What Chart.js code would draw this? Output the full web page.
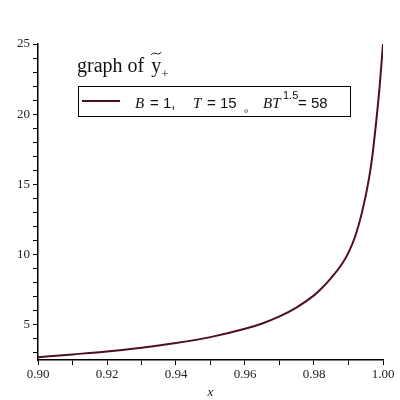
<!DOCTYPE html>
<html>
<head>
<meta charset="utf-8">
<script src="https://cdn.jsdelivr.net/npm/chart.js@4"></script>
<style>
  html, body { margin: 0; padding: 0; background: #fff; }
  #wrap { width: 400px; height: 400px; position: relative; }
</style>
</head>
<body>
<div id="wrap"><canvas id="yChart" width="400" height="400"></canvas></div>
<script>
// values
const xValues = [0.900, 0.910, 0.920, 0.930, 0.940, 0.950, 0.960, 0.965, 0.970, 0.975,
                 0.980, 0.982, 0.985, 0.988, 0.990, 0.992, 0.994, 0.996, 0.997, 0.998, 0.999, 1.000];
const yValues = [2.70, 2.90, 3.11, 3.38, 3.71, 4.13, 4.72, 5.10, 5.60, 6.25,
                 7.10, 7.55, 8.35, 9.30, 10.15, 11.35, 13.1, 15.5, 17.2, 19.4, 21.9, 25.0];
const xTicks = [0.90, 0.91, 0.92, 0.93, 0.94, 0.95, 0.96, 0.97, 0.98, 0.99, 1.00];
const xTickLabels = ['0.90', '', '0.92', '', '0.94', '', '0.96', '', '0.98', '', '1.00'];
const yTicks = [3, 4, 5, 6, 7, 8, 9, 10, 11, 12, 13, 14, 15, 16, 17, 18, 19, 20, 21, 22, 23, 24, 25];
const yLabelValues = [5, 10, 15, 20, 25];
const legendLabel = 'B = 1,  T = 15 \u3002 BT^1.5 = 58';

const lineColor = '#4e0f1e';
const serif = '"Liberation Serif", "Times New Roman", "DejaVu Serif", serif';
const sans = '"Liberation Sans", sans-serif';

let points = xValues.map((x, i) => ({ x: x, y: yValues[i] }));

// title and legend box drawn on the canvas
const legendBox = {
    id: 'legendBox',
    afterDraw(chart) {
        let ctx = chart.ctx;
        ctx.save();
        ctx.fillStyle = '#111';
        ctx.strokeStyle = '#111';
        ctx.textBaseline = 'alphabetic';
        ctx.font = '20px ' + serif;
        ctx.fillText('graph of', 77, 72);
        // y with tilde and + subscript
        let yx = 77 + ctx.measureText('graph of').width + 7;
        ctx.fillText('y', yx, 72);
        ctx.lineWidth = 1;
        ctx.beginPath();
        ctx.moveTo(yx, 55);
        ctx.bezierCurveTo(yx + 3, 50, yx + 7, 57, yx + 10, 52);
        ctx.stroke();
        ctx.font = '13px ' + serif;
        ctx.fillText('+', yx + 10, 78);

        // box
        ctx.strokeStyle = '#000';
        ctx.lineWidth = 1;
        ctx.strokeRect(78.5, 86.5, 272, 30);
        ctx.strokeStyle = lineColor;
        ctx.lineWidth = 2;
        ctx.beginPath();
        ctx.moveTo(82, 101);
        ctx.lineTo(120, 101);
        ctx.stroke();

        ctx.fillStyle = '#111';
        let y = 108;
        ctx.font = 'italic 15px ' + serif;
        ctx.fillText('B', 135, y);
        ctx.fillText('T', 193, y);
        ctx.fillText('BT', 263, y);
        ctx.font = '15px ' + sans;
        ctx.fillText('= 1,', 150, y);
        ctx.fillText('= 15', 207, y);
        ctx.fillText('\u3002', 243, y + 3);
        ctx.fillText('= 58', 298, y);
        ctx.font = '11px ' + sans;
        ctx.fillText('1.5', 283, y - 9);
        ctx.restore();
    }
};

let ctx = document.getElementById('yChart').getContext('2d');
let chart = new Chart(ctx, {
    type: 'line',
    data: {
        datasets: [{
            label: legendLabel,
            data: points,
            borderColor: lineColor,
            borderWidth: 2,
            pointRadius: 0,
            fill: false,
            cubicInterpolationMode: 'monotone'
        }]
    },
    options: {
        responsive: false,
        animation: false,
        layout: { padding: { top: 44, right: 17, left: 0, bottom: 0 } },
        plugins: {
            legend: { display: false },
            tooltip: { enabled: false }
        },
        scales: {
            x: {
                type: 'linear',
                min: 0.90,
                max: 1.00,
                afterBuildTicks: (scale) => { scale.ticks = xTicks.map(v => ({ value: v })); },
                afterFit: (scale) => { scale.height = 40; },
                grid: { drawOnChartArea: false, drawTicks: true, tickLength: 5, color: '#000' },
                border: { color: '#000', width: 1.5 },
                ticks: {
                    autoSkip: false,
                    maxRotation: 0,
                    padding: 2,
                    color: '#222',
                    font: { family: serif, size: 13 },
                    callback: (v, i) => xTickLabels[i]
                },
                title: {
                    display: true,
                    text: 'x',
                    color: '#222',
                    padding: 0,
                    font: { family: serif, size: 13, style: 'italic' }
                }
            },
            y: {
                min: 2.5,
                max: 25,
                afterBuildTicks: (scale) => { scale.ticks = yTicks.map(v => ({ value: v })); },
                afterFit: (scale) => { scale.width = 38; },
                grid: { drawOnChartArea: false, drawTicks: true, tickLength: 5, color: '#000' },
                border: { color: '#000', width: 1.5 },
                ticks: {
                    autoSkip: false,
                    padding: 3,
                    color: '#222',
                    font: { family: serif, size: 13 },
                    callback: (v) => yLabelValues.includes(v) ? String(v) : ''
                }
            }
        }
    },
    plugins: [legendBox]
});
</script>
</body>
</html>
